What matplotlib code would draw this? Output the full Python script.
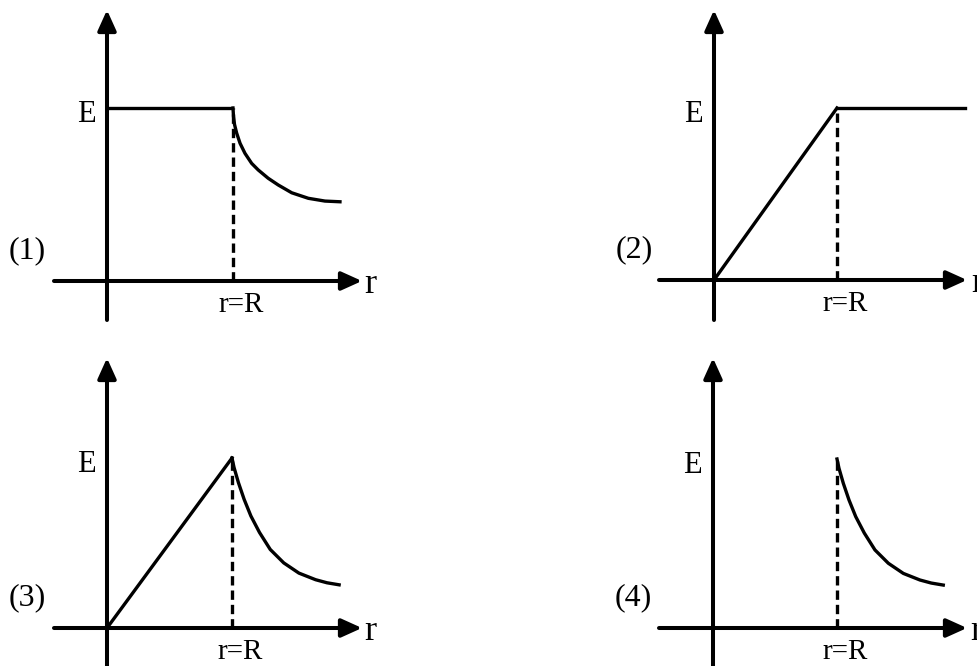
"""Four sketches of field strength E against distance r, with r=R marked."""
import matplotlib
matplotlib.use("Agg")
import matplotlib.pyplot as plt

W, H = 978, 666
plt.rcParams.update({
    "font.family": ["Liberation Serif", "DejaVu Serif"],
    "font.size": 21,
})

# values in units of R (distance) and of the peak field (E)
R = 1.0
E_PEAK = 1.0

# (1) constant inside, falls off outside
p1_in_r = [0.0, 1.0]
p1_in_E = [1.0, 1.0]
p1_out_r = [1.0, 1.004, 1.012, 1.029, 1.056, 1.095, 1.148, 1.2, 1.279,
            1.359, 1.466, 1.598, 1.73, 1.849]
p1_out_E = [1.0, 0.95, 0.905, 0.855, 0.796, 0.738, 0.68, 0.642, 0.594,
            0.555, 0.510, 0.478, 0.462, 0.458]

# (2) rises linearly, then constant
p2_in_r = [0.0, 1.0]
p2_in_E = [0.0, 1.0]
p2_out_r = [1.0, 2.04]
p2_out_E = [1.0, 1.0]

# (3) rises linearly, then falls off; (4) zero inside, falls off outside
rise_r = [0.0, 1.0]
rise_E = [0.0, 1.0]
fall_r = [1.0, 1.016, 1.051, 1.097, 1.151, 1.22, 1.306, 1.414, 1.535,
          1.669, 1.76, 1.857]
fall_E = [1.0, 0.945, 0.856, 0.757, 0.659, 0.562, 0.462, 0.383, 0.323,
          0.284, 0.266, 0.254]

LW_AX, LW = 2.9, 2.4


def panel(fig, box, origin, unit):
    """box=(x0, y0, x1, y1) and origin in pixels (y down), unit=(px per R, px per E)."""
    x0, y0, x1, y1 = box
    ox, oy = origin
    ux, uy = unit
    ax = fig.add_axes([x0 / W, 1 - y1 / H, (x1 - x0) / W, (y1 - y0) / H])
    ax.set_xlim((x0 - ox) / ux, (x1 - ox) / ux)
    ax.set_ylim((oy - y1) / uy, (oy - y0) / uy)
    ax.set_axis_off()
    xl, yl = ax.get_xlim(), ax.get_ylim()
    arrow = dict(arrowstyle="-|>,head_length=0.62,head_width=0.28",
                 lw=LW_AX, color="black", shrinkA=0, shrinkB=0,
                 mutation_scale=20)
    ax.annotate("", xy=(xl[1], 0), xytext=(xl[0], 0), arrowprops=arrow,
                annotation_clip=False)
    ax.annotate("", xy=(0, yl[1]), xytext=(0, yl[0]), arrowprops=arrow,
                annotation_clip=False)
    return ax


def labels(ax, tag, unit):
    ux, uy = unit
    ax.text(-21 / ux, E_PEAK - 14 / uy, "E", ha="center", va="baseline",
            fontsize=22)
    ax.text(-80 / ux, 23 / uy, tag, ha="center", va="baseline", fontsize=23)
    ax.text(R + 8 / ux, -31 / uy, "r=R", ha="center", va="baseline",
            fontsize=21)
    ax.text(263 / ux, -12 / uy, "r", ha="center", va="baseline", fontsize=26)


def dashed(ax):
    ax.plot([R, R], [0, E_PEAK], color="black", lw=LW,
            ls=(0, (2.8, 1.5)), clip_on=False)


fig = plt.figure(figsize=(W / 100, H / 100), dpi=100)

u1 = (126, 173)
ax = panel(fig, (54, 10, 362, 320), (107, 281), u1)
ax.plot(p1_in_r, p1_in_E, color="black", lw=LW, solid_capstyle="butt")
ax.plot(p1_out_r, p1_out_E, color="black", lw=LW, solid_joinstyle="round")
dashed(ax)
labels(ax, "(1)", u1)

u2 = (123, 172)
ax = panel(fig, (659, 10, 967, 320), (714, 280), u2)
ax.plot(p2_in_r, p2_in_E, color="black", lw=LW)
ax.plot(p2_out_r, p2_out_E, color="black", lw=LW, clip_on=False)
dashed(ax)
labels(ax, "(2)", u2)

u3 = (125, 170)
ax = panel(fig, (54, 358, 362, 668), (107, 628), u3)
ax.plot(rise_r, rise_E, color="black", lw=LW)
ax.plot(fall_r, fall_E, color="black", lw=LW, solid_joinstyle="round")
dashed(ax)
labels(ax, "(3)", u3)

u4 = (124, 169)
ax = panel(fig, (659, 358, 967, 668), (713, 628), u4)
ax.plot(fall_r, fall_E, color="black", lw=LW, solid_joinstyle="round")
dashed(ax)
labels(ax, "(4)", u4)

fig.savefig("out.png", dpi=100)
